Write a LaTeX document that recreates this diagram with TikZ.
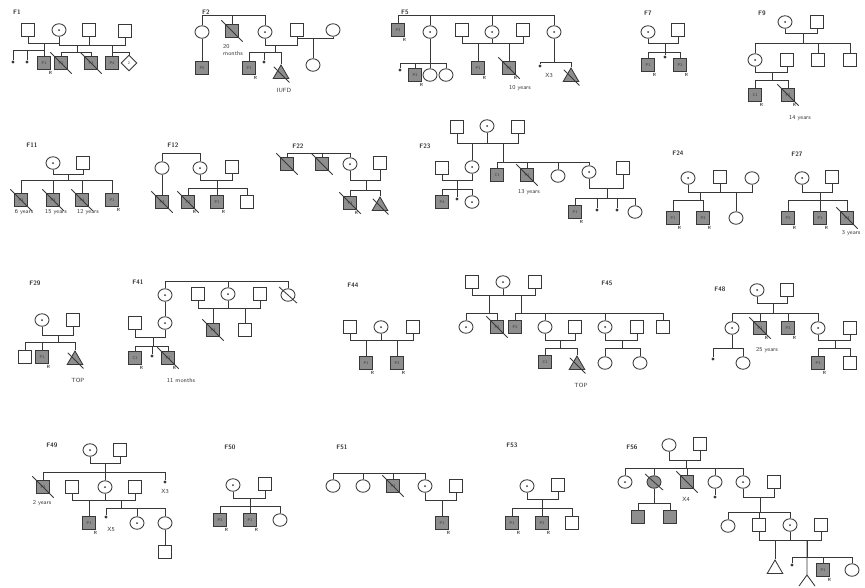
\documentclass[tikz,border=0pt]{standalone}
\usetikzlibrary{shapes.geometric}
\definecolor{affgray}{HTML}{8E8E8E}
\definecolor{inkgray}{HTML}{383838}

% couple line: spouse a, spouse b, height of the line
\newcommand{\couple}[3]{\draw (#1.south) -- (#1.south |- 0,#3) -- (#2.south |- 0,#3) -- (#2.south);}
% sibship: drop point, bar height, children
\newcommand{\sibs}[3]{\draw (#1) -- (#1 |- 0,#2);
  \foreach \kid in {#3} {\draw (\kid.north) |- (#1 |- 0,#2);}}
% deceased slash
\newcommand{\rip}[1]{\draw[shorten <=-5pt, shorten >=-5pt] (#1.north west) -- (#1.south east);}

\tikzset{
  person/.style={draw=inkgray, line width=0.85pt, inner sep=0pt, font=\sffamily\fontsize{4}{4.5}\selectfont},
  male/.style={person, rectangle, minimum size=13.5pt},
  female/.style={person, ellipse, minimum width=14pt, minimum height=12.5pt},
  carrier/.style={female, path picture={\fill[inkgray] (path picture bounding box.center) circle (1pt);}},
  aff/.style={fill=affgray},
  loss/.style={person, regular polygon, regular polygon sides=3, minimum size=18pt},
  sexunk/.style={person, diamond, minimum size=16pt},
  small/.style={circle, fill=inkgray, inner sep=0pt, minimum size=3.2pt},
  famlabel/.style={font=\sffamily\bfseries\fontsize{6.5}{7}\selectfont},
  note/.style={font=\sffamily\fontsize{6}{6.5}\selectfont},
  rmark/.style={label={[font=\sffamily\bfseries\fontsize{4.5}{5}\selectfont, inner sep=1pt]-65:R}},
}

\begin{document}
\begin{tikzpicture}[x=1pt, y=-1pt, line width=0.85pt, color=inkgray]
\path[use as bounding box, fill=white] (0,0) rectangle (865,587);

% --- F1 ---
\node[famlabel] (f1) at (17,12) {F1};
\node[male] (f1a) at (28,30) {};
\node[carrier] (f1b) at (59,30) {};
\node[male] (f1c) at (89,30) {};
\node[male] (f1d) at (125,31) {};
\couple{f1a}{f1b}{43}
\couple{f1b}{f1d}{45}
\draw (f1c.south) -- (f1c.south |- 0,45);
\node[small] (f1e) at (13,62) {};
\node[small] (f1f) at (27,62) {};
\node[male, aff, rmark] (f1g) at (44,63) {P1};
\node[male, aff] (f1h) at (61,63) {P2};
\node[male, aff] (f1i) at (91,63) {P3};
\node[male, aff] (f1j) at (112,63) {P4};
\node[sexunk] (f1k) at (129,63) {2};
\rip{f1h} \rip{f1i}
\coordinate (f1m1) at (44,43);
\coordinate (f1m2) at (77,45);
\coordinate (f1m3) at (112,45);
\sibs{f1m1}{50}{f1e,f1f,f1g}
\sibs{f1m2}{52}{f1h,f1i}
\sibs{f1m3}{52}{f1j,f1k}

% --- F2 ---
\node[famlabel] (f2) at (206,12) {F2};
\coordinate (f2t) at (232,15);
\node[female] (f2a) at (202,32) {};
\node[male, aff] (f2b) at (232,31) {};
\node[carrier] (f2c) at (265,32) {};
\rip{f2b}
\sibs{f2t}{15}{f2a,f2b,f2c}
\node[note, align=left] (f2n) at (233,50) {20\\months};
\node[male] (f2d) at (297,30) {};
\node[male, aff] (f2e) at (202,68) {P5};
\draw (f2a) -- (f2e);
\couple{f2c}{f2d}{45}
\coordinate (f2m) at (275,45);
\node[male, aff, rmark] (f2f) at (249,68) {P1};
\node[small] (f2g) at (264,62) {};
\node[loss, aff] (f2h) at (281,74) {};
\rip{f2h}
\sibs{f2m}{52}{f2f,f2g,f2h}
\node[note] (f2i) at (284,90) {IUFD};
\node[female] (f2j) at (333,30) {};
\couple{f2d}{f2j}{38}
\coordinate (f2m2) at (313,38);
\node[female] (f2k) at (313,65) {};
\sibs{f2m2}{38}{f2k}

% --- F5 ---
\node[famlabel] (f5) at (405,12) {F5};
\coordinate (f5t) at (476,15);
\node[male, aff, rmark] (f5a) at (398,30) {P3};
\node[carrier] (f5b) at (430,32) {};
\node[male] (f5c) at (462,30) {};
\node[carrier] (f5d) at (492,32) {};
\node[male] (f5e) at (523,30) {};
\node[carrier] (f5f) at (554,32) {};
\sibs{f5t}{15}{f5a,f5b,f5d,f5f}
\couple{f5c}{f5d}{43}
\couple{f5d}{f5e}{43}
\coordinate (f5m1) at (478,43);
\coordinate (f5m2) at (509,43);
\node[male, aff, rmark] (f5g) at (478,68) {P1};
\node[male, aff, rmark] (f5h) at (509,68) {P5};
\rip{f5h}
\sibs{f5m1}{43}{f5g}
\sibs{f5m2}{43}{f5h}
\node[note] (f5i) at (520,88) {10 years};
\node[small] (f5j) at (400,70) {};
\node[male, aff, rmark] (f5k) at (415,75) {P2};
\node[female] (f5l) at (430,75) {};
\node[female] (f5m) at (446,75) {};
\sibs{f5b.south}{63}{f5j,f5k,f5l,f5m}
\node[small] (f5n) at (540,66) {};
\node[loss, aff] (f5o) at (571,77) {};
\rip{f5o}
\sibs{f5f.south}{62}{f5n,f5o}
\node[note] (f5p) at (549,75) {X3};

% --- F7 ---
\node[famlabel] (f7) at (648,13) {F7};
\node[carrier] (f7a) at (648,32) {};
\node[male] (f7b) at (678,30) {};
\couple{f7a}{f7b}{43}
\coordinate (f7m) at (665,43);
\node[male, aff, rmark] (f7c) at (648,65) {P1};
\node[small] (f7d) at (665,57) {};
\node[male, aff, rmark] (f7e) at (680,65) {P2};
\sibs{f7m}{52}{f7c,f7d,f7e}

% --- F9 ---
\node[famlabel] (f9) at (762,13) {F9};
\node[carrier] (f9a) at (785,22) {};
\node[male] (f9b) at (817,22) {};
\couple{f9a}{f9b}{33}
\coordinate (f9m1) at (803,33);
\node[carrier] (f9c) at (755,60) {};
\node[male] (f9d) at (787,60) {};
\node[male] (f9e) at (818,60) {};
\node[male] (f9f) at (850,60) {};
\sibs{f9m1}{43}{f9c,f9e,f9f}
\couple{f9c}{f9d}{72}
\coordinate (f9m2) at (772,72);
\node[male, aff, rmark] (f9g) at (755,95) {C1};
\node[male, aff, rmark] (f9h) at (788,95) {P2};
\rip{f9h}
\sibs{f9m2}{80}{f9g,f9h}
\node[note] (f9i) at (800,118) {14 years};

% --- F11 ---
\node[famlabel] (f11) at (32,145) {F11};
\node[carrier] (f11a) at (53,163) {};
\node[male] (f11b) at (83,163) {};
\couple{f11a}{f11b}{174}
\coordinate (f11m) at (68,174);
\node[male, aff] (f11c) at (21,200) {P2};
\node[male, aff] (f11d) at (53,200) {P3};
\node[male, aff] (f11e) at (82,200) {P4};
\node[male, aff, rmark] (f11f) at (112,200) {P1};
\rip{f11c} \rip{f11d} \rip{f11e}
\sibs{f11m}{180}{f11c,f11d,f11e,f11f}
\node[note] (f11g) at (24,212) {6 years};
\node[note] (f11h) at (56,212) {15 years};
\node[note] (f11i) at (88,212) {12 years};

% --- F12 ---
\node[famlabel] (f12) at (173,145) {F12};
\coordinate (f12t) at (181,153);
\node[female] (f12a) at (162,168) {};
\node[carrier] (f12b) at (200,168) {};
\sibs{f12t}{153}{f12a,f12b}
\node[male] (f12c) at (232,167) {};
\couple{f12b}{f12c}{180}
\node[male, aff] (f12d) at (162,202) {P3};
\rip{f12d}
\draw (f12a) -- (f12d);
\coordinate (f12m) at (217,180);
\node[male, aff, rmark] (f12e) at (188,202) {P2};
\node[male, aff, rmark] (f12f) at (217,202) {P1};
\node[male] (f12g) at (247,202) {};
\rip{f12e}
\sibs{f12m}{188}{f12e,f12f,f12g}

% --- F22 ---
\node[famlabel] (f22) at (298,146) {F22};
\coordinate (f22t) at (320,153);
\node[male, aff] (f22a) at (287,164) {};
\node[male, aff] (f22b) at (322,164) {};
\node[carrier] (f22c) at (350,164) {};
\rip{f22a} \rip{f22b}
\sibs{f22t}{153}{f22a,f22b,f22c}
\node[male] (f22d) at (380,163) {};
\couple{f22c}{f22d}{180}
\coordinate (f22m) at (366,180);
\node[male, aff, rmark] (f22e) at (350,203) {P1};
\node[loss, aff] (f22f) at (380,206) {};
\rip{f22e} \rip{f22f}
\sibs{f22m}{190}{f22e,f22f}

% --- F23 ---
\node[famlabel] (f23) at (425,146) {F23};
\node[male] (f23a) at (457,127) {};
\node[carrier] (f23b) at (487,126) {};
\node[male] (f23c) at (518,127) {};
\couple{f23a}{f23b}{143}
\couple{f23b}{f23c}{143}
\coordinate (f23m1) at (472,143);
\coordinate (f23m2) at (503,143);
\node[male] (f23d) at (442,168) {};
\node[carrier] (f23e) at (472,167) {};
\sibs{f23m1}{143}{f23e}
\node[male, aff] (f23f) at (497,175) {C1};
\node[male, aff] (f23g) at (527,175) {P2};
\node[female] (f23h) at (558,176) {};
\node[carrier] (f23i) at (589,172) {};
\rip{f23g}
\sibs{f23m2}{162}{f23f,f23g,f23h,f23i}
\node[note] (f23j) at (529,192) {13 years};
\couple{f23d}{f23e}{180}
\coordinate (f23m3) at (457,180);
\node[male, aff] (f23k) at (442,202) {P4};
\node[small] (f23l) at (457,199) {};
\node[carrier] (f23n) at (472,202) {};
\sibs{f23m3}{189}{f23k,f23l,f23n}
\node[male] (f23o) at (623,168) {};
\couple{f23i}{f23o}{188}
\coordinate (f23m4) at (607,188);
\node[male, aff, rmark] (f23p) at (575,212) {P1};
\node[small] (f23q) at (597,210) {};
\node[small] (f23r) at (617,210) {};
\node[female] (f23s) at (635,212) {};
\sibs{f23m4}{198}{f23p,f23q,f23r,f23s}

% --- F24 ---
\node[famlabel] (f24) at (678,153) {F24};
\node[carrier] (f24a) at (688,178) {};
\node[male] (f24b) at (720,177) {};
\node[female] (f24c) at (752,178) {};
\couple{f24a}{f24b}{192}
\couple{f24b}{f24c}{192}
\coordinate (f24m1) at (700,192);
\coordinate (f24m2) at (736,192);
\node[male, aff, rmark] (f24d) at (673,218) {P1};
\node[male, aff, rmark] (f24e) at (703,218) {P2};
\node[female] (f24f) at (736,218) {};
\sibs{f24m1}{200}{f24d,f24e}
\sibs{f24m2}{192}{f24f}

% --- F27 ---
\node[famlabel] (f27) at (797,154) {F27};
\node[carrier] (f27a) at (802,178) {};
\node[male] (f27b) at (832,177) {};
\couple{f27a}{f27b}{192}
\coordinate (f27m) at (820,192);
\node[male, aff, rmark] (f27c) at (788,218) {P2};
\node[male, aff, rmark] (f27d) at (820,218) {P1};
\node[male, aff] (f27e) at (847,218) {P3};
\rip{f27e}
\sibs{f27m}{200}{f27c,f27d,f27e}
\node[note, anchor=east] (f27f) at (864,233) {3 years};

% --- F29 ---
\node[famlabel] (f29) at (35,283) {F29};
\node[carrier] (f29a) at (42,320) {};
\node[male] (f29b) at (73,320) {};
\couple{f29a}{f29b}{335}
\coordinate (f29m) at (58,335);
\node[male] (f29c) at (25,357) {};
\node[male, aff, rmark] (f29d) at (42,357) {P1};
\node[loss, aff] (f29e) at (75,360) {};
\rip{f29e}
\sibs{f29m}{342}{f29c,f29d,f29e}
\node[note] (f29f) at (78,380) {TOP};

% --- F41 ---
\node[famlabel] (f41) at (138,282) {F41};
\coordinate (f41t) at (228,281);
\node[carrier] (f41a) at (165,295) {};
\node[carrier] (f41b) at (228,294) {};
\node[female] (f41c) at (288,295) {};
\rip{f41c}
\sibs{f41t}{281}{f41a,f41b,f41c}
\node[male] (f41d) at (198,294) {};
\node[male] (f41e) at (260,294) {};
\couple{f41d}{f41b}{308}
\couple{f41b}{f41e}{308}
\coordinate (f41m1) at (213,308);
\coordinate (f41m2) at (245,308);
\node[male, aff] (f41f) at (213,330) {P3};
\node[male] (f41g) at (245,330) {};
\rip{f41f}
\sibs{f41m1}{308}{f41f}
\sibs{f41m2}{308}{f41g}
\node[carrier] (f41h) at (165,323) {};
\draw (f41a) -- (f41h);
\node[male] (f41i) at (135,323) {};
\couple{f41i}{f41h}{337}
\coordinate (f41m3) at (153,337);
\node[male, aff, rmark] (f41j) at (135,358) {C1};
\node[small] (f41k) at (152,356) {};
\node[male, aff, rmark] (f41l) at (168,358) {P2};
\rip{f41l}
\sibs{f41m3}{346}{f41j,f41k,f41l}
\node[note] (f41n) at (181,380) {11 months};

% --- F44 ---
\node[famlabel] (f44) at (353,285) {F44};
\node[male] (f44a) at (350,327) {};
\node[carrier] (f44b) at (381,327) {};
\node[male] (f44c) at (413,327) {};
\couple{f44a}{f44b}{340}
\couple{f44b}{f44c}{340}
\coordinate (f44m1) at (366,340);
\coordinate (f44m2) at (397,340);
\node[male, aff, rmark] (f44d) at (366,363) {P1};
\node[male, aff, rmark] (f44e) at (397,363) {P2};
\sibs{f44m1}{340}{f44d}
\sibs{f44m2}{340}{f44e}

% --- F45 ---
\node[famlabel] (f45) at (607,283) {F45};
\node[male] (f45a) at (472,282) {};
\node[carrier] (f45b) at (503,282) {};
\node[male] (f45c) at (535,282) {};
\couple{f45a}{f45b}{295}
\couple{f45b}{f45c}{295}
\coordinate (f45m1) at (489,295);
\coordinate (f45m2) at (521,295);
\node[carrier] (f45d) at (466,327) {};
\node[male, aff] (f45e) at (497,327) {P1};
\rip{f45e}
\sibs{f45m1}{313}{f45d,f45e}
\node[male, aff] (f45f) at (515,327) {P2};
\node[female] (f45g) at (545,327) {};
\node[carrier] (f45h) at (605,327) {};
\node[male] (f45i) at (663,327) {};
\sibs{f45m2}{313}{f45f,f45g,f45h,f45i}
\node[male] (f45j) at (575,327) {};
\couple{f45g}{f45j}{340}
\coordinate (f45m3) at (560,340);
\node[male, aff] (f45k) at (545,362) {C1};
\node[loss, aff] (f45l) at (577,365) {};
\rip{f45l}
\sibs{f45m3}{348}{f45k,f45l}
\node[note] (f45n) at (581,385) {TOP};
\node[male] (f45o) at (637,327) {};
\couple{f45h}{f45o}{340}
\coordinate (f45m4) at (622,340);
\node[female] (f45p) at (605,363) {};
\node[female] (f45q) at (640,363) {};
\sibs{f45m4}{348}{f45p,f45q}

% --- F48 ---
\node[famlabel] (f48) at (720,289) {F48};
\node[carrier] (f48a) at (757,290) {};
\node[male] (f48b) at (787,290) {};
\couple{f48a}{f48b}{303}
\coordinate (f48m1) at (773,303);
\node[carrier] (f48c) at (732,328) {};
\node[male, aff, rmark] (f48d) at (760,328) {P1};
\node[male, aff, rmark] (f48e) at (788,328) {P2};
\node[carrier] (f48f) at (818,328) {};
\rip{f48d}
\sibs{f48m1}{313}{f48c,f48d,f48e,f48f}
\node[note] (f48g) at (767,350) {25 years};
\node[male] (f48h) at (850,328) {};
\couple{f48f}{f48h}{340}
\coordinate (f48m2) at (835,340);
\node[male, aff, rmark] (f48i) at (818,363) {P3};
\node[male] (f48j) at (850,363) {};
\sibs{f48m2}{348}{f48i,f48j}
\node[small] (f48k) at (713,359) {};
\node[female] (f48l) at (743,363) {};
\sibs{f48c.south}{348}{f48k,f48l}

% --- F49 ---
\node[famlabel] (f49) at (52,445) {F49};
\node[carrier] (f49a) at (90,450) {};
\node[male] (f49b) at (120,450) {};
\couple{f49a}{f49b}{463}
\coordinate (f49m1) at (105,463);
\node[male, aff] (f49c) at (43,487) {P2};
\node[carrier] (f49d) at (105,487) {};
\node[small] (f49e) at (165,482) {};
\rip{f49c}
\sibs{f49m1}{472}{f49c,f49d,f49e}
\node[note] (f49f) at (42,503) {2 years};
\node[note] (f49g) at (165,491) {X3};
\node[male] (f49h) at (72,487) {};
\node[male] (f49i) at (135,487) {};
\couple{f49h}{f49d}{500}
\couple{f49d}{f49i}{500}
\coordinate (f49m2) at (89,500);
\coordinate (f49m3) at (121,500);
\node[male, aff, rmark] (f49j) at (89,523) {P1};
\sibs{f49m2}{500}{f49j}
\node[small] (f49k) at (106,517) {};
\node[carrier] (f49l) at (137,523) {};
\node[female] (f49n) at (165,523) {};
\sibs{f49m3}{508}{f49k,f49l,f49n}
\node[note] (f49o) at (111,529) {X5};
\node[male] (f49p) at (165,552) {};
\draw (f49n) -- (f49p);

% --- F50 ---
\node[famlabel] (f50) at (230,447) {F50};
\node[carrier] (f50a) at (233,485) {};
\node[male] (f50b) at (265,484) {};
\couple{f50a}{f50b}{498}
\coordinate (f50m) at (250,498);
\node[male, aff, rmark] (f50c) at (220,520) {P2};
\node[male, aff, rmark] (f50d) at (250,520) {P1};
\node[female] (f50e) at (280,520) {};
\sibs{f50m}{506}{f50c,f50d,f50e}

% --- F51 ---
\node[famlabel] (f51) at (342,447) {F51};
\coordinate (f51t) at (379,473);
\node[female] (f51a) at (333,486) {};
\node[female] (f51b) at (363,486) {};
\node[male, aff] (f51c) at (393,486) {P2};
\node[carrier] (f51d) at (425,486) {};
\rip{f51c}
\sibs{f51t}{473}{f51a,f51b,f51c,f51d}
\node[male] (f51e) at (456,486) {};
\couple{f51d}{f51e}{500}
\coordinate (f51m) at (442,500);
\node[male, aff, rmark] (f51f) at (442,523) {P1};
\sibs{f51m}{500}{f51f}

% --- F53 ---
\node[famlabel] (f53) at (512,445) {F53};
\node[carrier] (f53a) at (527,486) {};
\node[male] (f53b) at (558,485) {};
\couple{f53a}{f53b}{499}
\coordinate (f53m) at (542,499);
\node[male, aff, rmark] (f53c) at (512,523) {P1};
\node[male, aff, rmark] (f53d) at (542,523) {P2};
\node[male] (f53e) at (572,523) {};
\sibs{f53m}{508}{f53c,f53d,f53e}

% --- F56 ---
\node[famlabel] (f56) at (632,447) {F56};
\node[female] (f56a) at (669,445) {};
\node[male] (f56b) at (700,444) {};
\couple{f56a}{f56b}{460}
\coordinate (f56m1) at (686,460);
\node[carrier] (f56c) at (625,482) {};
\node[female, aff] (f56d) at (654,482) {};
\node[male, aff] (f56e) at (687,482) {};
\node[female] (f56f) at (715,482) {};
\node[carrier] (f56g) at (743,482) {};
\rip{f56d} \rip{f56e}
\sibs{f56m1}{468}{f56c,f56d,f56e,f56f,f56g}
\node[note] (f56h) at (686,499) {X4};
\node[small] (f56i) at (715,497) {};
\draw (f56f) -- (f56i);
\node[male, aff] (f56j) at (638,517) {};
\node[male, aff] (f56k) at (670,517) {};
\sibs{f56d.south}{503}{f56j,f56k}
\node[male] (f56l) at (774,482) {};
\couple{f56g}{f56l}{497}
\coordinate (f56m2) at (760,497);
\node[female] (f56n) at (728,526) {};
\node[male] (f56o) at (759,525) {};
\node[carrier] (f56p) at (790,525) {};
\sibs{f56m2}{512}{f56n,f56o,f56p}
\node[male] (f56q) at (821,525) {};
\couple{f56o}{f56p}{540}
\couple{f56p}{f56q}{540}
\coordinate (f56m3) at (775,540);
\coordinate (f56m4) at (807,540);
\node[loss] (f56r) at (775,569) {};
\sibs{f56m3}{540}{f56r}
\node[small] (f56s) at (792,565) {};
\node[male, aff, rmark] (f56t) at (823,570) {P1};
\node[female] (f56u) at (852,570) {};
\sibs{f56m4}{557}{f56s,f56t,f56u}
\coordinate (f56v) at (807,575);
\coordinate (f56w) at (799,586);
\coordinate (f56x) at (815,586);
\draw (f56m4) -- (f56v) -- (f56w) (f56v) -- (f56x);

\end{tikzpicture}
\end{document}
